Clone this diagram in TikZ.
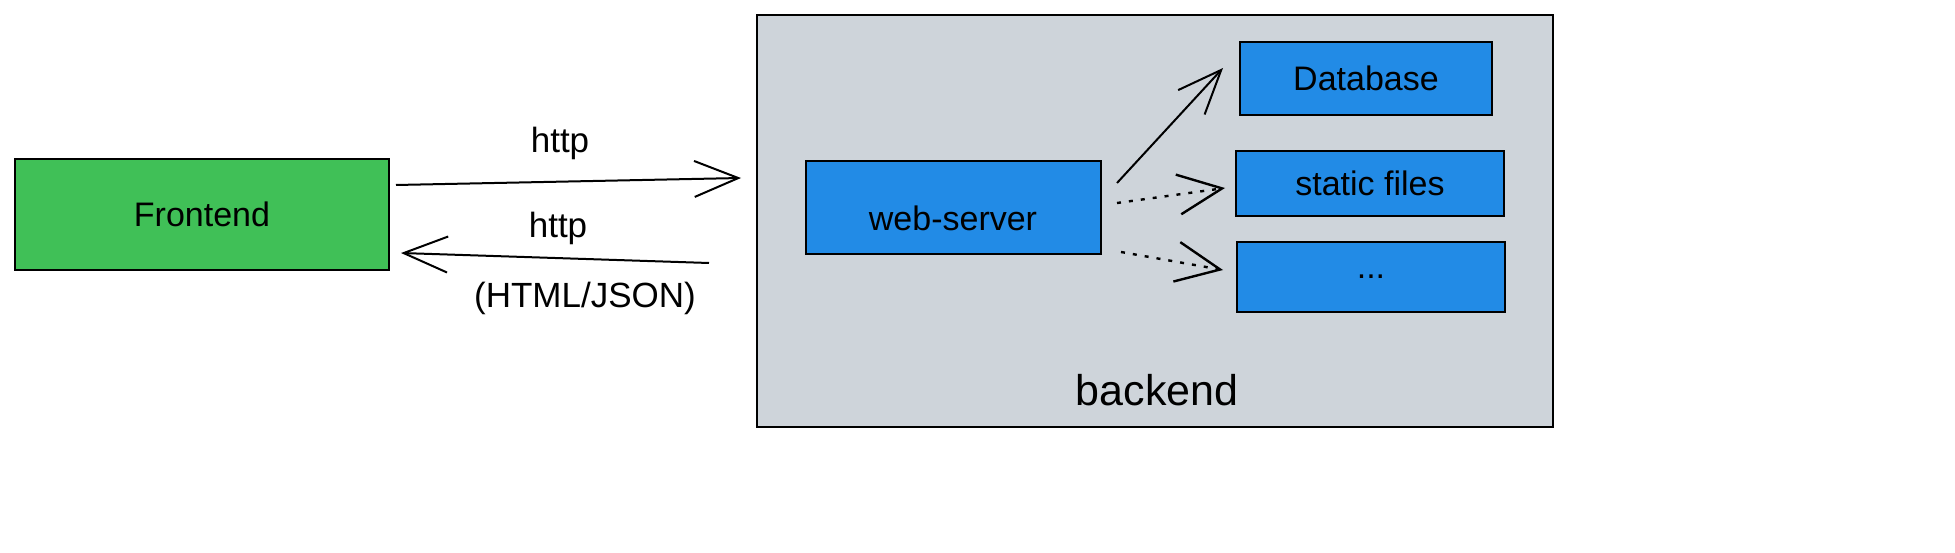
\documentclass[tikz,border=0pt]{standalone}
\usepackage{fontspec}
\setmainfont{Liberation Sans}
\usetikzlibrary{arrows.meta}

\definecolor{frontgreen}{HTML}{40C057}
\definecolor{backgray}{HTML}{CED4DA}
\definecolor{serverblue}{HTML}{228BE6}

\begin{document}
\begin{tikzpicture}[x=0.5pt,y=0.5pt,
    box/.style={draw=black,line width=1pt,inner sep=0pt,font=\fontsize{17}{20}\selectfont},
    arr/.style={line width=1pt,-{Straight Barb[length=22pt,width=18pt,line width=1pt]}},
    dots/.style={line width=1.2pt,dash pattern=on 2pt off 4pt,-{Straight Barb[length=22pt,width=20pt,line width=1.2pt]}},
    lbl/.style={font=\fontsize{17.5}{21}\selectfont}]
    \useasboundingbox (0,0) rectangle (1955,552);

    % boxes
    \node[box,fill=frontgreen,minimum width=187pt,minimum height=55.5pt] (frontend) at (202,337.5) {Frontend};
    \node[draw=black,line width=1pt,fill=backgray,minimum width=398pt,minimum height=206pt] (backend) at (1155,331) {};
    \node[font=\fontsize{21.5}{26}\selectfont] (backendlbl) at (1157,162) {backend};
    \node[box,fill=serverblue,minimum width=147.5pt,minimum height=46.5pt] (server) at (953.5,344.5) {};
    \node[font=\fontsize{17}{20}\selectfont] (serverlbl) at (953,334) {web-server};
    \node[box,fill=serverblue,minimum width=126pt,minimum height=36.5pt] (db) at (1366,473.5) {Database};
    \node[box,fill=serverblue,minimum width=134pt,minimum height=32.5pt] (static) at (1370,368.5) {static files};
    \node[box,fill=serverblue,minimum width=134pt,minimum height=35pt] (more) at (1371,275) {...};

    % requests and answers
    \draw[arr] ([xshift=3pt,yshift=14.75pt]frontend.east) -- ([xshift=-7.5pt,yshift=21.5pt]backend.west);
    \draw[arr] ([xshift=-23.5pt,yshift=-21pt]backend.west) -- ([xshift=5.5pt,yshift=-19.25pt]frontend.east);
    \node[lbl] (req) at (560,409) {http};
    \node[lbl] (resp) at (558,324) {http};
    \node[lbl] (respkind) at (585,254) {(HTML/JSON)};

    % inside the backend
    \draw[arr] ([xshift=7.5pt,yshift=12.25pt]server.east) -- ([xshift=-8pt,yshift=5.25pt]db.west);
    \draw[dots] ([xshift=7.5pt,yshift=2.25pt]server.east) -- ([xshift=-5pt,yshift=-2.25pt]static.west);
    \draw[dots] ([xshift=9.5pt,yshift=-22.25pt]server.east) -- ([xshift=-6.5pt,yshift=3.5pt]more.west);
\end{tikzpicture}
\end{document}
